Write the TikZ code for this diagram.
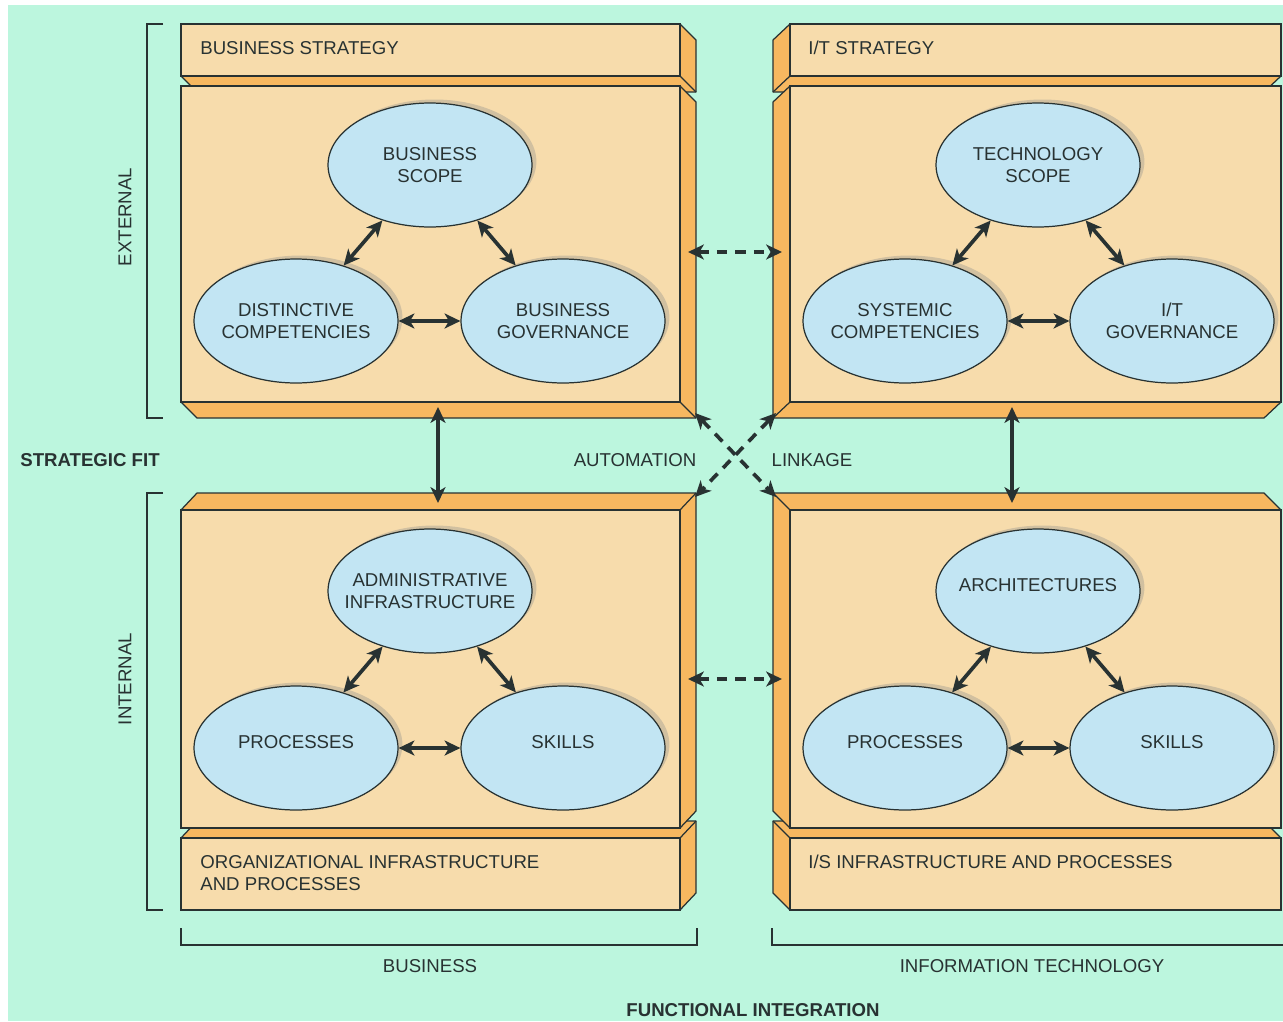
\documentclass[tikz,border=0pt]{standalone}
\usepackage{fontspec}
\setmainfont{Liberation Sans}
\usetikzlibrary{shapes.geometric,arrows.meta,shadows}
\definecolor{mint}{RGB}{188,246,222}
\definecolor{slabtan}{RGB}{247,220,172}
\definecolor{slabside}{RGB}{247,184,96}
\definecolor{sky}{RGB}{194,229,243}
\definecolor{ink}{RGB}{40,50,50}
\newcommand\diagfont{\fontsize{10.6}{12.8}\selectfont}
\tikzset{
  front/.style={fill=slabtan,draw=ink,line width=.7pt},
  flank/.style={fill=slabside,draw=ink,line width=.7pt,line join=round},
  bubble/.style={ellipse,draw=ink,fill=sky,line width=.7pt,minimum width=4.08cm,minimum height=2.48cm,align=center,
    inner xsep=-0.3cm,drop shadow={shadow xshift=2.5pt,shadow yshift=2pt,fill=black!45,opacity=.35}},
  oneline/.style={text depth=7pt},
  link/.style={<->,line width=2.1pt,draw=ink},
  loose/.style={link,dash pattern=on 6pt off 4.5pt},
  brace/.style={draw=ink,line width=.8pt}
}

\begin{document}
\begin{tikzpicture}[x=0.02cm,y=-0.02cm,font=\diagfont,text=ink,inner sep=0pt,
  >={Stealth[length=9pt,width=8.5pt,inset=2.5pt]}]
  \useasboundingbox (0,0) rectangle (1283,1021);
  \fill[white] (0,0) rectangle (1283,1021);
  \fill[mint] (8,5) rectangle (1283,1021);

  \foreach \ya/\yb in {24/76,86/402}{
    \draw[flank] (181,\ya) -- (680,\ya) -- (696,\ya+16) -- (696,\yb+16) -- (197,\yb+16) -- (181,\yb) -- cycle;
    \draw[flank] (680,\yb) -- (696,\yb+16);
    \draw[front] (181,\ya) rectangle (680,\yb);
    \draw[flank] (790,\ya) -- (1281,\ya) -- (1281,\yb) -- (1264,\yb+16) -- (773,\yb+16) -- (773,\ya+16) -- cycle;
    \draw[flank] (790,\yb) -- (773,\yb+16);
    \draw[front] (790,\ya) rectangle (1281,\yb);
  }
  \foreach \ya/\yb in {838/910,510/828}{
    \draw[flank] (181,\yb) -- (181,\ya) -- (197,\ya-17) -- (696,\ya-17) -- (696,\yb-17) -- (680,\yb) -- cycle;
    \draw[flank] (680,\ya) -- (696,\ya-17);
    \draw[front] (181,\ya) rectangle (680,\yb);
    \draw[flank] (1281,\ya) -- (1281,\yb) -- (790,\yb) -- (773,\yb-17) -- (773,\ya-17) -- (1264,\ya-17) -- cycle;
    \draw[flank] (790,\ya) -- (773,\ya-17);
    \draw[front] (790,\ya) rectangle (1281,\yb);
  }

  \node[anchor=west] (bstrat) at (200,48) {BUSINESS STRATEGY};
  \node[anchor=west] (itstrat) at (808,48) {I/T STRATEGY};
  \node[anchor=west,align=left] (orginf) at (200,873) {ORGANIZATIONAL INFRASTRUCTURE\\AND PROCESSES};
  \node[anchor=west] (isinf) at (808,862) {I/S INFRASTRUCTURE AND PROCESSES};

  \node[bubble] (bscope) at (430,165) {BUSINESS\\SCOPE};
  \node[bubble] (distcomp) at (296,321) {DISTINCTIVE\\COMPETENCIES};
  \node[bubble] (bgov) at (563,321) {BUSINESS\\GOVERNANCE};
  \node[bubble] (tscope) at (1038,165) {TECHNOLOGY\\SCOPE};
  \node[bubble] (syscomp) at (905,321) {SYSTEMIC\\COMPETENCIES};
  \node[bubble] (itgov) at (1172,321) {I/T\\GOVERNANCE};
  \node[bubble] (adminf) at (430,591) {ADMINISTRATIVE\\INFRASTRUCTURE};
  \node[bubble,oneline] (bproc) at (296,748) {PROCESSES};
  \node[bubble,oneline] (bskill) at (563,748) {SKILLS};
  \node[bubble,oneline] (arch) at (1038,591) {ARCHITECTURES};
  \node[bubble,oneline] (itproc) at (905,748) {PROCESSES};
  \node[bubble,oneline] (itskill) at (1172,748) {SKILLS};

  \draw[link] (bscope) -- (distcomp);
  \draw[link] (bscope) -- (bgov);
  \draw[link] (distcomp) -- (bgov);
  \draw[link] (tscope) -- (syscomp);
  \draw[link] (tscope) -- (itgov);
  \draw[link] (syscomp) -- (itgov);
  \draw[link] (adminf) -- (bproc);
  \draw[link] (adminf) -- (bskill);
  \draw[link] (bproc) -- (bskill);
  \draw[link] (arch) -- (itproc);
  \draw[link] (arch) -- (itskill);
  \draw[link] (itproc) -- (itskill);

  \coordinate (tlS) at (438,407);
  \coordinate (blN) at (438,503);
  \coordinate (trS) at (1012,407);
  \coordinate (brN) at (1012,503);
  \coordinate (tlE) at (688,252);
  \coordinate (trW) at (782,252);
  \coordinate (blE) at (688,679);
  \coordinate (brW) at (782,679);
  \coordinate (tlC) at (695,413);
  \coordinate (brC) at (776,497);
  \coordinate (trC) at (776,413);
  \coordinate (blC) at (695,497);
  \draw[link] (tlS) -- (blN);
  \draw[link] (trS) -- (brN);
  \draw[loose] (tlE) -- (trW);
  \draw[loose] (blE) -- (brW);
  \draw[loose] (tlC) -- (brC);
  \draw[loose] (trC) -- (blC);

  \draw[brace] (163,24) -| (147,418) -- (163,418);
  \draw[brace] (163,493) -| (147,910) -- (163,910);
  \draw[brace] (181,928) |- (697,945) -- (697,928);
  \draw[brace] (772,928) |- (1283,945);

  \node[rotate=90] (extl) at (125,217) {EXTERNAL};
  \node[rotate=90] (intl) at (125,679) {INTERNAL};
  \node[font=\diagfont\bfseries] (sfit) at (90,460) {STRATEGIC FIT};
  \node (autom) at (635,460) {AUTOMATION};
  \node (linkage) at (812,460) {LINKAGE};
  \node (busl) at (430,966) {BUSINESS};
  \node (itl) at (1032,966) {INFORMATION TECHNOLOGY};
  \node[font=\diagfont\bfseries] (fint) at (753,1010) {FUNCTIONAL INTEGRATION};
\end{tikzpicture}
\end{document}
